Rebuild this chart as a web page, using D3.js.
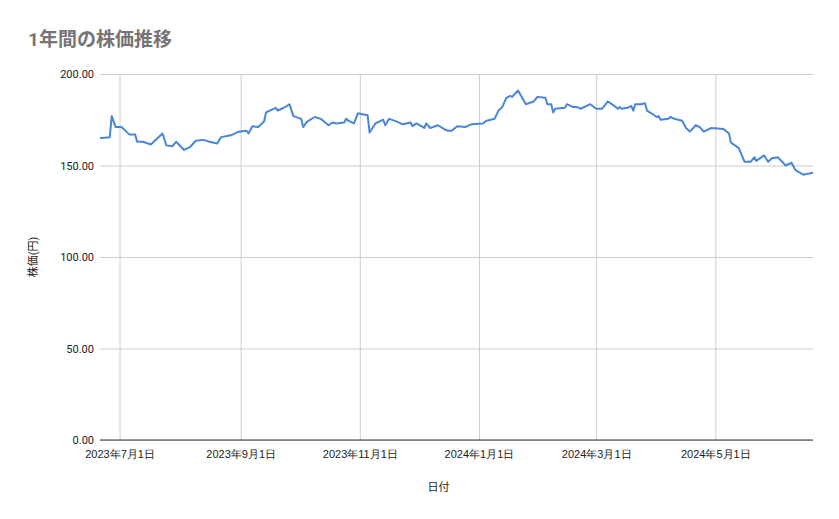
<!DOCTYPE html>
<html><head><meta charset="utf-8">
<script src="https://cdn.jsdelivr.net/npm/d3@7"></script>
<style>body{margin:0;background:#fff;font-family:Roboto,"Noto Sans CJK JP",sans-serif}</style>
</head><body><svg id="c" width="839" height="519"></svg>
<script>
const dates = ["2023-06-21","2023-06-22","2023-06-26","2023-06-27","2023-06-29","2023-07-02","2023-07-06","2023-07-09","2023-07-10","2023-07-13","2023-07-17","2023-07-20","2023-07-23","2023-07-25","2023-07-28","2023-07-30","2023-08-03","2023-08-06","2023-08-09","2023-08-13","2023-08-16","2023-08-20","2023-08-22","2023-08-27","2023-08-31","2023-09-04","2023-09-05","2023-09-07","2023-09-10","2023-09-13","2023-09-14","2023-09-19","2023-09-20","2023-09-22","2023-09-24","2023-09-26","2023-09-28","2023-10-02","2023-10-03","2023-10-05","2023-10-09","2023-10-12","2023-10-16","2023-10-18","2023-10-20","2023-10-24","2023-10-25","2023-10-27","2023-10-29","2023-10-31","2023-11-05","2023-11-06","2023-11-09","2023-11-13","2023-11-14","2023-11-16","2023-11-20","2023-11-23","2023-11-27","2023-11-28","2023-11-30","2023-12-04","2023-12-05","2023-12-07","2023-12-11","2023-12-14","2023-12-16","2023-12-18","2023-12-21","2023-12-25","2023-12-28","2024-01-03","2024-01-05","2024-01-09","2024-01-11","2024-01-13","2024-01-15","2024-01-17","2024-01-18","2024-01-21","2024-01-25","2024-01-29","2024-01-31","2024-02-04","2024-02-05","2024-02-07","2024-02-08","2024-02-09","2024-02-14","2024-02-15","2024-02-18","2024-02-20","2024-02-22","2024-02-27","2024-03-01","2024-03-04","2024-03-07","2024-03-11","2024-03-12","2024-03-13","2024-03-14","2024-03-17","2024-03-19","2024-03-20","2024-03-21","2024-03-24","2024-03-26","2024-03-27","2024-03-30","2024-04-01","2024-04-02","2024-04-03","2024-04-07","2024-04-08","2024-04-10","2024-04-14","2024-04-16","2024-04-18","2024-04-21","2024-04-23","2024-04-25","2024-04-29","2024-05-05","2024-05-08","2024-05-09","2024-05-13","2024-05-16","2024-05-19","2024-05-21","2024-05-22","2024-05-26","2024-05-28","2024-05-30","2024-06-02","2024-06-06","2024-06-09","2024-06-11","2024-06-15","2024-06-20"];
const prices = [165,165,165.5,177,171,171,167,167,163,163,161.5,164.5,167.5,161,160.5,163,158.5,160,163.5,164,163,162,165.5,166.5,168.5,169,167.5,171.5,171,174,179,181.5,180,181,182,183.5,177,175.5,171,174,176.5,175.5,172,173.5,173,173.5,175.5,174,173,178.5,177.5,168,173,175,172,175.5,174,172.5,173.5,171.5,173,170.5,173,170.5,172,170,169,169,171.5,171,172.5,173,174.5,175.5,180,182,187,188,187.5,191,183.5,185,187.5,187,183.5,183.5,179,181,181.5,183.5,182,182,181,183.5,181,181,185,182,181,182,181,181.5,182.5,180,183.5,183.5,184,180,178,176.5,177,175,175.5,176.5,175.5,174.5,170.5,168.5,172,171,168.5,170.5,170,167.5,162.5,159.5,152,152,154.5,152.5,155.5,152,154,154.5,150,151.5,147.5,145,146];
const yTicks = [0,50,100,150,200];
const xTicks = ["2023-07-01","2023-09-01","2023-11-01","2024-01-01","2024-03-01","2024-05-01"];
const title = "1年間の株価推移", xTitle = "日付", yTitle = "株価(円)";

const p = d3.timeParse("%Y-%m-%d");
const data = dates.map((d,i)=>({d:p(d),v:prices[i]}));
const svg = d3.select("#c");
const L=100,R=813,T=74,B=440;
const x = d3.scaleTime().domain([p("2023-06-21"),p("2024-06-20")]).range([L,R]);
const y = d3.scaleLinear().domain([0,200]).range([B,T]);
const fmtX = d=>`${d.getFullYear()}年${d.getMonth()+1}月${d.getDate()}日`;

svg.append("text").attr("x",28).attr("y",46).attr("fill","#757575").attr("font-size",19).attr("font-weight","bold").text(title);

const gy = svg.append("g").attr("transform",`translate(${L},0)`)
  .call(d3.axisLeft(y).tickValues(yTicks).tickSize(-(R-L)).tickFormat(d3.format(".2f")));
gy.select(".domain").remove();
gy.selectAll("line").attr("stroke","#cccccc");
gy.selectAll("text").attr("x",-6).attr("font-size",11).attr("fill","#222").attr("font-family","Roboto,sans-serif");

const gx = svg.append("g").attr("transform",`translate(0,${B})`)
  .call(d3.axisBottom(x).tickValues(xTicks.map(p)).tickSize(-(B-T)).tickFormat(fmtX));
gx.select(".domain").remove();
gx.selectAll("line").attr("stroke","#cccccc");
gx.selectAll("text").attr("y",10).attr("font-size",11).attr("fill","#222");
svg.append("line").attr("x1",L).attr("x2",R).attr("y1",B).attr("y2",B).attr("stroke","#333");

svg.append("path").datum(data).attr("fill","none").attr("stroke","#4a86d8").attr("stroke-width",2)
  .attr("stroke-linejoin","round").attr("d",d3.line().x(d=>x(d.d)).y(d=>y(d.v)));

svg.append("text").attr("x",(L+R)/2-18).attr("y",491).attr("text-anchor","middle").attr("font-size",11).attr("fill","#222").text(xTitle);
svg.append("text").attr("transform",`translate(37,${(T+B)/2}) rotate(-90)`).attr("text-anchor","middle").attr("font-size",11).attr("fill","#222").text(yTitle);
</script></body></html>
